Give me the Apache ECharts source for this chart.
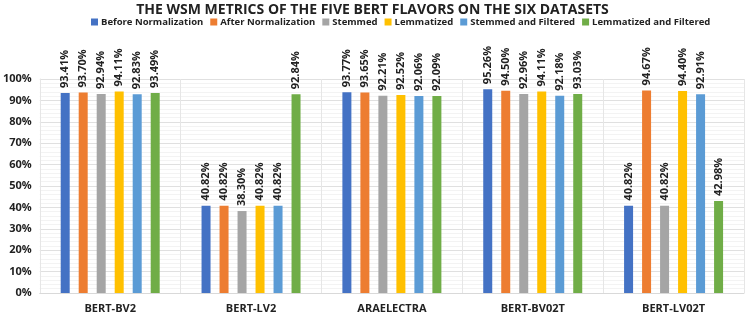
<!DOCTYPE html>
<html>
<head>
<meta charset="utf-8">
<script src="https://cdn.jsdelivr.net/npm/echarts@6/dist/echarts.min.js"></script>
<style>
  html, body {margin: 0; padding: 0; background: #fff;}
  #chart {width: 745px; height: 317px;}
</style>
</head>
<body>
<div id="chart"></div>
<script>
const datasets = ["BERT-BV2", "BERT-LV2", "ARAELECTRA", "BERT-BV02T", "BERT-LV02T"];
const seriesNames = ["Before Normalization", "After Normalization", "Stemmed", "Lemmatized", "Stemmed and Filtered", "Lemmatized and Filtered"];
const colors = ["#4472C4", "#ED7D31", "#A5A5A5", "#FFC000", "#5B9BD5", "#70AD47"];

const beforeNorm = [93.41, 40.82, 93.77, 95.26, 40.82];
const afterNorm = [93.70, 40.82, 93.65, 94.50, 94.67];
const stemmed = [92.94, 38.30, 92.21, 92.96, 40.82];
const lemmatized = [94.11, 40.82, 92.52, 94.11, 94.40];
const stemmedFiltered = [92.83, 40.82, 92.06, 92.18, 92.91];
const lemmatizedFiltered = [93.49, 92.84, 92.09, 93.03, 42.98];

const allValues = [beforeNorm, afterNorm, stemmed, lemmatized, stemmedFiltered, lemmatizedFiltered];
const fontFamily = "'Open Sans', sans-serif";

const chart = echarts.init(document.getElementById("chart"));

const option = {
  animation: false,
  color: colors,
  title: {
    text: "THE WSM METRICS OF THE FIVE BERT FLAVORS ON THE SIX DATASETS",
    left: "center",
    top: -2,
    textStyle: {fontFamily: fontFamily, fontSize: 14, fontWeight: "bold", color: "#222"},
  },
  legend: {
    data: seriesNames,
    top: 12,
    left: 86,
    itemWidth: 7,
    itemHeight: 7,
    itemGap: 7,
    icon: "rect",
    textStyle: {fontFamily: fontFamily, fontSize: 9.5, fontWeight: "bold", color: "#222", padding: [0, 0, 0, -2]},
  },
  grid: {left: 39, right: 1, top: 79, bottom: 24},
  xAxis: {
    type: "category",
    data: datasets,
    axisLine: {lineStyle: {color: "#d9d9d9"}},
    axisTick: {show: false},
    splitLine: {show: true, lineStyle: {color: "#e6e6e6"}},
    axisLabel: {fontFamily: fontFamily, fontSize: 11, fontWeight: "bold", color: "#222", margin: 10},
  },
  yAxis: {
    type: "value",
    min: 0,
    max: 100,
    interval: 10,
    axisLine: {show: true, lineStyle: {color: "#e6e6e6"}},
    axisLabel: {fontFamily: fontFamily, fontSize: 11, fontWeight: "bold", color: "#222", formatter: "{value}%", margin: 8},
    splitLine: {lineStyle: {color: "#e0e0e0"}},
    minorTick: {show: false, splitNumber: 5},
    minorSplitLine: {show: true, lineStyle: {color: "#f3f3f3"}},
  },
  series: seriesNames.map((name, i) => ({
    name: name,
    type: "bar",
    data: allValues[i],
    barWidth: 9,
    barGap: "100%",
    label: {
      show: true,
      position: "top",
      rotate: 90,
      align: "left",
      verticalAlign: "middle",
      distance: 5,
      fontFamily: fontFamily,
      fontSize: 11,
      fontWeight: "bold",
      color: "#222",
      formatter: (p) => p.value.toFixed(2) + "%",
    },
  })),
};

chart.setOption(option);
</script>
</body>
</html>
